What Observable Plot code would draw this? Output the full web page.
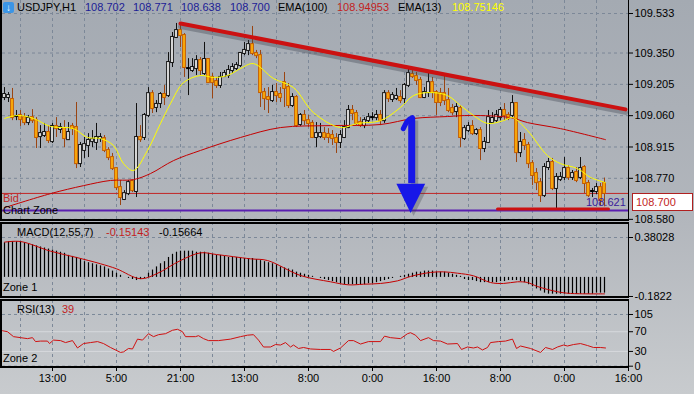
<!DOCTYPE html>
<html><head><meta charset="utf-8">
<script src="https://cdn.jsdelivr.net/npm/d3@7"></script>
<script src="https://cdn.jsdelivr.net/npm/@observablehq/plot@0.6"></script>
<style>
body{margin:0;}
#root{position:relative;width:694px;height:394px;overflow:hidden;background:linear-gradient(180deg,#a4aab2 0%,#b2b6bc 55%,#c8cbce 100%);font-family:"Liberation Sans",Arial,sans-serif;font-size:11px;}
.p{position:absolute;left:0;}
.t{position:absolute;white-space:nowrap;line-height:12px;font-size:11px;color:#000;}
.box{position:absolute;box-sizing:border-box;border-style:solid;border-color:#000;}
</style></head>
<body>
<div id="root"></div>
<script>
// ---------- DATA ----------
const open = [
109.144,109.144,109.135,109.056,109.061,109.051,109.028,109.051,109.037,108.963,
108.968,108.982,108.940,109.010,108.996,109.000,108.949,109.010,109.005,108.838,
108.899,108.922,108.940,108.936,108.954,108.954,108.899,108.866,108.815,108.727,
108.672,108.699,108.755,108.709,108.959,108.959,109.061,109.162,109.098,109.116,
109.158,109.153,109.306,109.422,109.454,109.431,109.278,109.269,109.278,109.315,
109.255,109.320,109.237,109.218,109.200,109.241,109.246,109.269,109.278,109.292,
109.348,109.362,109.389,109.348,109.338,109.167,109.144,109.130,109.167,109.158,
109.213,109.190,109.107,109.144,109.019,109.061,109.037,109.024,108.959,108.963,
108.977,108.973,108.968,108.954,108.936,108.959,109.005,109.084,109.070,109.028,
109.014,109.037,109.051,109.051,109.061,109.037,109.162,109.135,109.139,109.144,
109.139,109.200,109.250,109.241,109.223,109.144,109.167,109.213,109.167,109.162,
109.162,109.130,109.093,109.079,109.093,108.954,108.991,109.010,108.977,108.991,
108.908,108.936,109.028,109.037,109.051,109.084,109.061,109.061,109.116,108.889,
108.945,108.922,108.838,108.792,108.750,108.690,108.820,108.843,108.723,108.764,
108.774,108.815,108.774,108.797,108.774,108.820,108.746,108.709,108.709,108.727,
108.746];
const high = [
109.190,109.167,109.186,109.084,109.084,109.070,109.061,109.088,109.051,109.014,
109.024,109.014,109.024,109.051,109.024,109.037,109.028,109.024,109.121,108.936,
108.959,108.977,108.991,109.024,108.977,108.968,108.912,108.885,108.820,108.760,
108.713,108.760,108.760,109.116,109.014,109.070,109.190,109.176,109.130,109.167,
109.200,109.352,109.445,109.487,109.477,109.440,109.324,109.324,109.338,109.329,
109.399,109.324,109.255,109.237,109.260,109.269,109.292,109.301,109.306,109.352,
109.399,109.408,109.473,109.362,109.362,109.186,109.190,109.200,109.209,109.190,
109.260,109.209,109.162,109.153,109.070,109.084,109.061,109.037,109.028,109.024,
109.005,109.000,108.991,108.977,108.991,109.037,109.107,109.107,109.084,109.051,
109.051,109.070,109.074,109.084,109.084,109.176,109.176,109.167,109.186,109.176,
109.209,109.278,109.269,109.260,109.237,109.190,109.260,109.237,109.176,109.186,
109.246,109.186,109.112,109.116,109.107,109.014,109.028,109.037,109.000,109.005,
108.959,109.084,109.074,109.084,109.098,109.116,109.074,109.153,109.121,108.982,
108.977,108.936,108.852,108.815,108.769,108.838,108.862,108.862,108.792,108.797,
108.866,108.829,108.806,108.820,108.866,108.829,108.760,108.723,108.746,108.746,
108.771];
const low = [
109.130,109.121,109.037,109.037,109.010,109.014,109.014,109.024,108.908,108.908,
108.959,108.931,108.931,108.959,108.977,108.912,108.945,108.968,108.815,108.820,
108.862,108.866,108.912,108.899,108.936,108.889,108.852,108.806,108.713,108.644,
108.667,108.690,108.704,108.681,108.936,108.945,109.051,109.070,109.074,109.093,
109.107,109.144,109.283,109.417,109.375,109.237,109.153,109.260,109.246,109.246,
109.246,109.209,109.139,109.186,109.186,109.237,109.232,109.255,109.269,109.283,
109.338,109.338,109.338,109.324,109.098,109.084,109.070,109.121,109.121,109.121,
109.098,109.093,109.098,109.005,109.010,109.014,109.005,108.954,108.912,108.954,
108.945,108.931,108.922,108.885,108.908,108.954,109.000,109.037,109.014,109.005,
109.000,109.024,109.037,109.037,109.014,109.024,109.121,109.121,109.130,109.116,
109.116,109.190,109.232,109.200,109.139,109.139,109.144,109.139,109.061,109.102,
109.107,109.074,109.061,109.051,108.912,108.945,108.982,108.968,108.968,108.852,
108.889,108.931,109.024,109.028,109.037,109.037,109.037,109.051,108.843,108.866,
108.899,108.815,108.736,108.713,108.658,108.681,108.806,108.713,108.621,108.755,
108.760,108.760,108.760,108.750,108.764,108.699,108.681,108.681,108.695,108.644,
108.638];
const close = [
109.158,109.153,109.051,109.056,109.042,109.028,109.047,109.037,108.959,108.977,
108.982,108.945,109.010,109.000,109.005,108.954,108.982,109.000,108.838,108.922,
108.926,108.945,108.949,108.959,108.959,108.899,108.866,108.815,108.727,108.681,
108.699,108.750,108.713,108.959,108.949,109.061,109.162,109.093,109.112,109.158,
109.144,109.306,109.422,109.454,109.431,109.283,109.278,109.283,109.315,109.269,
109.320,109.213,109.213,109.200,109.237,109.255,109.269,109.283,109.292,109.348,
109.362,109.389,109.348,109.338,109.167,109.139,109.135,109.167,109.153,109.144,
109.186,109.107,109.144,109.014,109.061,109.037,109.024,108.959,108.977,108.977,
108.959,108.959,108.954,108.936,108.968,109.005,109.084,109.070,109.024,109.014,
109.037,109.051,109.051,109.061,109.037,109.162,109.139,109.153,109.149,109.130,
109.200,109.255,109.241,109.223,109.144,109.167,109.213,109.167,109.121,109.121,
109.130,109.084,109.074,109.098,108.959,109.000,109.010,108.977,108.991,108.908,
108.936,109.051,109.047,109.061,109.084,109.061,109.047,109.116,108.889,108.936,
108.922,108.838,108.783,108.750,108.690,108.820,108.843,108.723,108.774,108.774,
108.815,108.774,108.792,108.760,108.815,108.746,108.690,108.709,108.727,108.667,
108.700];

const ema13Idx = [0,3.25,7.25,11.5,17.25,20.75,24,27.25,29.75,32.25,35.75,39,41.5,44.75,49,52.25,55.75,59,62.25,67.25,72.25,77.25,84,88.25,94,99,102.25,106.5,110.75,114,117.25,120.75,124.75,127,130.75,135.75,139,143.25,146.5,150.25];
const ema13Val = [109.047,109.061,109.047,109.010,109.000,108.959,108.954,108.922,108.838,108.806,108.899,109.024,109.116,109.213,109.246,109.237,109.246,109.278,109.301,109.232,109.190,109.074,109.005,109.024,109.037,109.098,109.153,109.167,109.153,109.107,109.061,109.024,109.037,109.051,108.991,108.875,108.838,108.815,108.774,108.750];
const ema100Idx = [0,11.5,19.75,26.5,32.25,36.5,42.25,49,59,69,81.5,94,102.25,110.75,116.5,126.5,130.75,139,150.25];
const ema100Val = [108.634,108.699,108.736,108.760,108.764,108.792,108.852,108.899,108.959,109.005,109.014,109.019,109.047,109.056,109.061,109.051,109.028,109.000,108.949];

const trendIdx = [44, 155.25];
const trendVal = [109.487, 109.089];
const supportIdx = [123.25, 151];
const supportVal = [108.628, 108.628];
const bidPrice = 108.700;
const zonePrice = 108.621;

const arrowShaftIdx = 101.8;
const arrowShaftTop = 109.049;
const arrowShaftBottom = 108.745;
const arrowHookIdx = [102.0, 100.8, 99.7];
const arrowHookVal = [109.051, 109.036, 109.000];
const arrowHeadIdx = [98.1, 101.65, 105.3];
const arrowHeadVal = [108.742, 108.607, 108.742];

const macd = [
0.33,0.34,0.34,0.34,0.34,0.33,0.32,0.31,0.30,0.29,
0.28,0.27,0.26,0.25,0.24,0.23,0.21,0.20,0.19,0.17,
0.15,0.14,0.13,0.12,0.11,0.10,0.08,0.06,0.04,0.02,
0.00,-0.01,-0.02,-0.03,-0.02,-0.01,0.04,0.07,0.10,0.13,
0.15,0.19,0.22,0.24,0.25,0.25,0.25,0.25,0.24,0.24,
0.24,0.23,0.22,0.21,0.21,0.20,0.19,0.19,0.19,0.18,
0.18,0.18,0.18,0.17,0.16,0.15,0.14,0.13,0.12,0.10,
0.09,0.08,0.07,0.05,0.04,0.03,0.02,0.01,0.00,-0.01,
-0.02,-0.03,-0.04,-0.05,-0.06,-0.07,-0.07,-0.07,-0.07,-0.07,
-0.07,-0.06,-0.06,-0.05,-0.04,-0.03,-0.02,-0.01,0.00,0.01,
0.02,0.03,0.04,0.05,0.05,0.06,0.06,0.06,0.05,0.05,
0.05,0.04,0.03,0.02,0.01,-0.02,-0.03,-0.03,-0.04,-0.05,
-0.05,-0.05,-0.05,-0.05,-0.04,-0.04,-0.03,-0.03,-0.03,-0.04,
-0.05,-0.07,-0.09,-0.11,-0.13,-0.15,-0.16,-0.16,-0.16,-0.16,
-0.16,-0.16,-0.16,-0.16,-0.16,-0.16,-0.16,-0.16,-0.15,-0.15,
-0.15];
const sigIdx = [0,4,11.5,18,24,28,34,38,44,49,53,61.5,65.75,74,81.5,86,89.75,94,98.25,101.5,106.5,109.75,113.25,117.25,121.5,124.75,128.25,130.75,133.25,138.25,141.5,150];
const sigVal = [0.336,0.342,0.25,0.19,0.13,0.082,-0.013,0.034,0.161,0.234,0.218,0.177,0.161,0.018,-0.042,-0.071,-0.065,-0.058,-0.033,0.009,0.047,0.053,0.04,0.015,-0.049,-0.058,-0.042,-0.049,-0.087,-0.137,-0.153,-0.157];

const rsiIdx = [-0.5,0.75,2.25,4,5.75,7,7.75,9,10.75,11.25,12.25,14,15.25,17,18.25,19.75,21.5,23.25,24.75,26.5,29,29.75,31,32,33.25,34.5,36,37.25,38.5,40.25,42,43.25,44.5,45.25,47.75,48.5,49.75,51,53.5,56.5,59,60.75,62.25,63.5,64.75,66.5,67.75,69,70.25,71.5,72.25,73.5,74.75,76.5,79,81.5,82.25,84,86,87.25,89,91,94,95,96.5,99,100.75,101.5,102.75,104,106,107.25,109,110.75,113.25,114.25,115.75,117.25,118.25,119.5,120.75,121.5,123.5,125.25,127,128,129,131.5,134,135.25,137,138.25,139.75,140.75,142.25,144,145.75,147.25,149,150.25];
const rsiVal = [72,70,60,58,56,58,50,51,51,46,53,52,48,52,37,46,48,50,46,38,28,29,36,35,55,53,66,60,64,66,73,75,70,60,60,62,56,52,52,55,60,63,64,53,39,39,44,43,48,39,43,36,38,35,34,34,30,37,52,52,45,50,50,61,58,56,66,68,63,52,58,52,51,45,46,34,39,37,39,33,38,48,50,51,55,36,41,36,28,38,34,39,43,41,44,46,42,38,38,37];

const priceTicks = [109.533, 109.350, 109.205, 109.060, 108.915, 108.770, 108.580];
const macdTicks = [0.38028, -0.1822];
const macdTickLabels = ["0.38028", "-0.1822"];
const rsiTicks = [105, 70, 30, 0];
const rsiGuides = [70, 30];
const gridIdx = [4,12,20,28,36,44,52,60,68,76,84,92,100,108,116,124,132,140,148];
const timeTickIdx = [12,28,44,60,76,92,108,124,140,156];
const timeLabels = ["13:00","5:00","21:00","13:00","8:00","0:00","16:00","8:00","0:00","16:00"];

// ---------- BUILD ----------
const candles = open.map((o, i) => ({i, o, h: high[i], l: low[i], c: close[i]}));
const kind = d => d.c > d.o ? "up" : d.c < d.o ? "down" : "doji";
const bodyFill = {up: "#f6f6f6", down: "#ffb30a", doji: "#000"};
const bodyStroke = {up: "#111", down: "#c25a00", doji: "#000"};
const wickStroke = {up: "#111", down: "#9a4512", doji: "#111"};
const pts = (xs, ys) => xs.map((x, k) => ({x, y: ys[k]}));

const xDomain = [-0.5, 156];
const gridStyle = {stroke: "#7c8898", strokeOpacity: 1, strokeDasharray: "3,3"};
const common = {width: 694, marginLeft: 2, marginRight: 66, marginTop: 0,
  style: {background: "transparent", fontFamily: "Liberation Sans, Arial, sans-serif", fontSize: "11px", color: "#000", overflow: "visible"}};

const root = document.getElementById("root");
function place(svg, top) { const d = document.createElement("div"); d.className = "p"; d.style.top = top + "px"; d.appendChild(svg); root.appendChild(d); }

const blue = "#1717e8";
const headBase = arrowHeadVal[0];
const mainPlot = Plot.plot({
  ...common, height: 222, marginBottom: 0,
  x: {domain: xDomain, axis: null},
  y: {domain: [108.5654, 109.5932]},
  marks: [
    Plot.gridX(gridIdx, gridStyle),
    Plot.gridY(priceTicks, gridStyle),
    Plot.ruleY([bidPrice], {stroke: "#c22626", strokeWidth: 1}),
    Plot.ruleY([zonePrice], {stroke: "#5a1fb0", strokeWidth: 2}),
    Plot.ruleX(candles, {x: "i", y1: "l", y2: "h", stroke: d => wickStroke[kind(d)], strokeWidth: 1}),
    Plot.rect(candles, {x1: d => d.i - 0.34, x2: d => d.i + 0.34, y1: "o", y2: "c",
      fill: d => bodyFill[kind(d)], stroke: d => bodyStroke[kind(d)], strokeWidth: 1, insetTop: -0.5, insetBottom: -0.5}),
    Plot.line(pts(ema100Idx, ema100Val), {x: "x", y: "y", stroke: "#c40000", strokeWidth: 1, curve: "catmull-rom"}),
    Plot.line(pts(ema13Idx, ema13Val), {x: "x", y: "y", stroke: "#ffff00", strokeWidth: 1, curve: "catmull-rom"}),
    Plot.line(pts(trendIdx, trendVal), {x: "x", y: "y", stroke: "#3a3f4a", strokeOpacity: 0.35, strokeWidth: 5, dy: 3}),
    Plot.line(pts(trendIdx, trendVal), {x: "x", y: "y", stroke: "#cc1111", strokeWidth: 4}),
    Plot.line(pts(supportIdx, supportVal), {x: "x", y: "y", stroke: "#cc1111", strokeWidth: 3}),
    // arrow shadow
    Plot.ruleX([arrowShaftIdx], {x: d => d, y1: () => arrowShaftTop, y2: () => arrowShaftBottom, stroke: "#3a3f4a", strokeOpacity: 0.3, strokeWidth: 7, dx: 3, dy: 3}),
    Plot.areaY(pts(arrowHeadIdx, arrowHeadVal), {x: "x", y1: () => headBase, y2: "y", fill: "#3a3f4a", fillOpacity: 0.3, dx: 3, dy: 3}),
    // arrow
    Plot.ruleX([arrowShaftIdx], {x: d => d, y1: () => arrowShaftTop, y2: () => arrowShaftBottom, stroke: blue, strokeWidth: 7}),
    Plot.line(pts(arrowHookIdx, arrowHookVal), {x: "x", y: "y", stroke: blue, strokeWidth: 5, curve: "natural", strokeLinecap: "round"}),
    Plot.areaY(pts(arrowHeadIdx, arrowHeadVal), {x: "x", y1: () => headBase, y2: "y", fill: blue}),
    Plot.axisY({ticks: priceTicks, anchor: "right", tickSize: 4, tickPadding: 2, tickFormat: d3.format(".3f"), label: null})
  ]
});
place(mainPlot, 0);

const macdLabelMap = new Map(macdTicks.map((t, k) => [t, macdTickLabels[k]]));
const macdPlot = Plot.plot({
  ...common, height: 76, marginBottom: 0,
  x: {domain: xDomain, axis: null},
  y: {domain: [-0.20127, 0.52329]},
  marks: [
    Plot.gridX(gridIdx, gridStyle),
    Plot.gridY(macdTicks, gridStyle),
    Plot.ruleX(macd, {x: (d, i) => i, y1: () => 0, y2: d => d, stroke: "#000", strokeWidth: 1.2}),
    Plot.line(pts(sigIdx, sigVal), {x: "x", y: "y", stroke: "#c40000", strokeWidth: 1, curve: "catmull-rom"}),
    Plot.axisY({ticks: macdTicks, anchor: "right", tickSize: 4, tickPadding: 2, tickFormat: d => macdLabelMap.get(d), label: null})
  ]
});
place(macdPlot, 222);

const timeMap = new Map(timeTickIdx.map((t, k) => [t, timeLabels[k]]));
const rsiPlot = Plot.plot({
  ...common, height: 94, marginBottom: 27,
  x: {domain: xDomain},
  y: {domain: [-2.64, 133.43]},
  marks: [
    Plot.gridX(gridIdx, gridStyle),
    Plot.gridY(rsiGuides, {stroke: "#d6d9dd", strokeOpacity: 1}),
    Plot.gridY([105, 0], gridStyle),
    Plot.line(pts(rsiIdx, rsiVal), {x: "x", y: "y", stroke: "#d01010", strokeWidth: 1}),
    Plot.axisY({ticks: rsiTicks, anchor: "right", tickSize: 4, tickPadding: 2, label: null}),
    Plot.axisX({ticks: timeTickIdx, tickSize: 4, tickPadding: 3, tickFormat: d => timeMap.get(d), label: null})
  ]
});
place(rsiPlot, 300);

// ---------- frames & texts ----------
function box(l, t, w, h, bw) { const d = document.createElement("div"); d.className = "box";
  Object.assign(d.style, {left: l + "px", top: t + "px", width: w + "px", height: h + "px", borderWidth: bw}); root.appendChild(d); }
box(0, -3, 629, 224, "0 1px 2px 2px");
box(0, 222, 629, 76, "2px 1px 2px 2px");
box(0, 299, 629, 69, "2px 1px 2px 2px");

function txt(s, l, t, color, extra) { const d = document.createElement("div"); d.className = "t"; d.textContent = s;
  Object.assign(d.style, {left: l + "px", top: t + "px", color: color || "#000"}, extra || {}); root.appendChild(d); return d; }
txt("↓", 3, 2, "#fff", {width: "11px", height: "11px", lineHeight: "11px", background: "#3b95e6", borderRadius: "2px", textAlign: "center", fontWeight: "bold", fontSize: "10px"});
txt("USDJPY,H1", 17, 1);
txt("108.702", 85, 1, "#1c1c96");
txt("108.771", 133, 1, "#1c1c96");
txt("108.638", 181, 1, "#1c1c96");
txt("108.700", 230, 1, "#1c1c96");
txt("EMA(100)", 278, 1);
txt("108.94953", 337, 1, "#c21e1e");
txt("EMA(13)", 398, 1);
txt("108.75146", 452, 1, "#ffff00");
txt("Bid", 3, 193, "#c22626", {lineHeight: "11px"});
txt("Chart Zone", 3, 205, "#000", {lineHeight: "11px"});
txt("108.621", 586, 196, "#3a1a9a");
txt("108.700", 632, 193, "#c21e1e", {width: "61px", height: "18px", boxSizing: "border-box", border: "1px solid #b02020", background: "#fff", lineHeight: "16px", paddingLeft: "3px"});
txt("MACD(12,55,7)", 17, 226);
txt("-0.15143", 106, 226, "#c21e1e");
txt("-0.15664", 159, 226);
txt("Zone 1", 3, 281);
txt("RSI(13)", 17, 303);
txt("39", 62, 303, "#c21e1e");
txt("Zone 2", 3, 352);
</script>
</body></html>
